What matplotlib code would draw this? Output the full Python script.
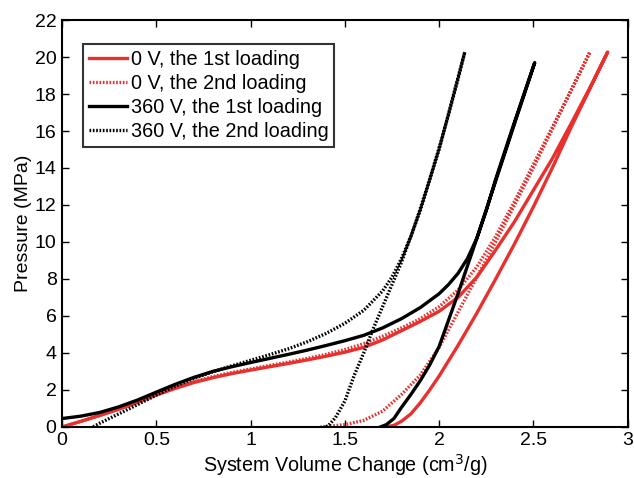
import matplotlib
matplotlib.use("Agg")
import matplotlib.pyplot as plt

plt.rcParams['font.family'] = ['Liberation Sans', 'DejaVu Sans']

RED = '#e8302e'

# 0 V, 1st loading (loading branch, then unloading branch)
red1_load_x = [0, 0.1, 0.2, 0.3, 0.4, 0.5, 0.6, 0.7, 0.8, 0.9, 1.0, 1.1, 1.2, 1.3, 1.4, 1.5, 1.6, 1.7, 1.8, 1.9, 2.0, 2.1, 2.2, 2.3, 2.4, 2.5, 2.6, 2.7, 2.8, 2.894]
red1_load_p = [0, 0.3, 0.62, 0.95, 1.32, 1.72, 2.08, 2.4, 2.66, 2.88, 3.07, 3.25, 3.43, 3.62, 3.82, 4.04, 4.3, 4.7, 5.2, 5.7, 6.25, 7.0, 8.1, 9.57, 11.1, 12.8, 14.5, 16.4, 18.35, 20.27]
red1_unload_x = [2.894, 2.8, 2.7, 2.6, 2.5, 2.4, 2.3, 2.2, 2.1, 2.0, 1.95, 1.9, 1.85, 1.8, 1.76, 1.72]
red1_unload_p = [20.27, 18.3, 16.2, 14.0, 11.9, 9.9, 8.0, 6.15, 4.4, 2.75, 2.0, 1.3, 0.7, 0.3, 0.08, 0]

# 0 V, 2nd loading
red2_load_x = [0, 0.1, 0.2, 0.3, 0.4, 0.5, 0.6, 0.7, 0.8, 0.9, 1.0, 1.1, 1.2, 1.3, 1.4, 1.5, 1.6, 1.7, 1.8, 1.9, 2.0, 2.1, 2.2, 2.3, 2.4, 2.5, 2.6, 2.7, 2.8]
red2_load_p = [0, 0.3, 0.62, 0.97, 1.35, 1.75, 2.12, 2.45, 2.72, 2.94, 3.13, 3.32, 3.5, 3.7, 3.92, 4.18, 4.5, 4.9, 5.35, 5.85, 6.5, 7.4, 8.65, 10.3, 12.2, 14.2, 16.2, 18.2, 20.27]
red2_unload_x = [2.8, 2.7, 2.6, 2.5, 2.4, 2.3, 2.2, 2.1, 2.0, 1.9, 1.8, 1.7, 1.6, 1.5, 1.4, 1.37]
red2_unload_p = [20.27, 18.2, 16.1, 14.0, 12.0, 10.0, 8.1, 6.2, 4.3, 2.8, 1.75, 0.85, 0.35, 0.12, 0.02, 0]

# 360 V, 1st loading
blk1_load_x = [0, 0.1, 0.2, 0.3, 0.4, 0.5, 0.6, 0.7, 0.8, 0.9, 1.0, 1.1, 1.2, 1.3, 1.4, 1.5, 1.6, 1.7, 1.8, 1.9, 2.0, 2.05, 2.1, 2.15, 2.2, 2.25, 2.3, 2.4, 2.507]
blk1_load_p = [0.45, 0.58, 0.78, 1.08, 1.45, 1.88, 2.3, 2.68, 3.0, 3.25, 3.48, 3.7, 3.92, 4.15, 4.4, 4.66, 4.95, 5.35, 5.85, 6.45, 7.2, 7.7, 8.3, 9.1, 10.2, 11.7, 13.4, 16.5, 19.7]
blk1_unload_x = [2.507, 2.4, 2.3, 2.2, 2.1, 2.0, 1.95, 1.9, 1.85, 1.8, 1.76, 1.72, 1.69]
blk1_unload_p = [19.7, 16.4, 13.3, 10.2, 7.2, 4.35, 3.35, 2.5, 1.75, 1.05, 0.45, 0.12, 0]

# 360 V, 2nd loading
blk2_load_x = [0.165, 0.2, 0.3, 0.4, 0.5, 0.6, 0.7, 0.8, 0.9, 1.0, 1.1, 1.2, 1.3, 1.4, 1.5, 1.6, 1.7, 1.75, 1.8, 1.85, 1.9, 1.95, 2.0, 2.05, 2.1, 2.136]
blk2_load_p = [0, 0.2, 0.7, 1.2, 1.72, 2.2, 2.62, 2.98, 3.3, 3.6, 3.9, 4.22, 4.6, 5.05, 5.6, 6.3, 7.35, 8.1, 9.1, 10.3, 11.8, 13.4, 15.1, 16.9, 18.8, 20.27]
blk2_unload_x = [2.136, 2.1, 2.0, 1.9, 1.8, 1.7, 1.65, 1.6, 1.55, 1.5, 1.45, 1.42, 1.4]
blk2_unload_p = [20.27, 18.9, 15.0, 11.7, 8.9, 6.5, 5.3, 4.0, 2.8, 1.4, 0.5, 0.15, 0]

fig = plt.figure(figsize=(6.34, 4.78), dpi=100)
ax = fig.add_axes([0.098, 0.107, 0.892, 0.851])

dot = (0, (0.5, 0.5))
lw = 2.4

ax.plot(red1_load_x + red1_unload_x, red1_load_p + red1_unload_p, color=RED, lw=lw, label='0 V, the 1st loading')
ax.plot(red2_load_x + red2_unload_x, red2_load_p + red2_unload_p, color=RED, lw=lw, ls=dot, label='0 V, the 2nd loading')
ax.plot(blk1_load_x + blk1_unload_x, blk1_load_p + blk1_unload_p, color='black', lw=lw, label='360 V, the 1st loading')
ax.plot(blk2_load_x + blk2_unload_x, blk2_load_p + blk2_unload_p, color='black', lw=lw, ls=dot, label='360 V, the 2nd loading')

ax.set_xlim(0, 3)
ax.set_ylim(0, 22)
ax.set_xticks([0, 0.5, 1, 1.5, 2, 2.5, 3])
ax.set_xticklabels(['0', '0.5', '1', '1.5', '2', '2.5', '3'])
ax.set_yticks(range(0, 23, 2))
ax.tick_params(direction='in', top=True, right=True, labelsize=14, length=5, width=1, pad=4)
for s in ax.spines.values():
    s.set_linewidth(1.5)

ax.set_xlabel('System Volume Change (cm$^3$/g)', fontsize=14.2, labelpad=2)
ax.set_ylabel('Pressure (MPa)', fontsize=14, labelpad=2)

leg = ax.legend(loc='upper left', bbox_to_anchor=(0.037, 0.94), fontsize=14.3, frameon=True, fancybox=False,
                edgecolor='black', handlelength=1.9, handletextpad=0.2, borderpad=0.3, labelspacing=0.24,
                borderaxespad=0)
leg.get_frame().set_linewidth(1.5)

fig.savefig('out.png', dpi=100)
